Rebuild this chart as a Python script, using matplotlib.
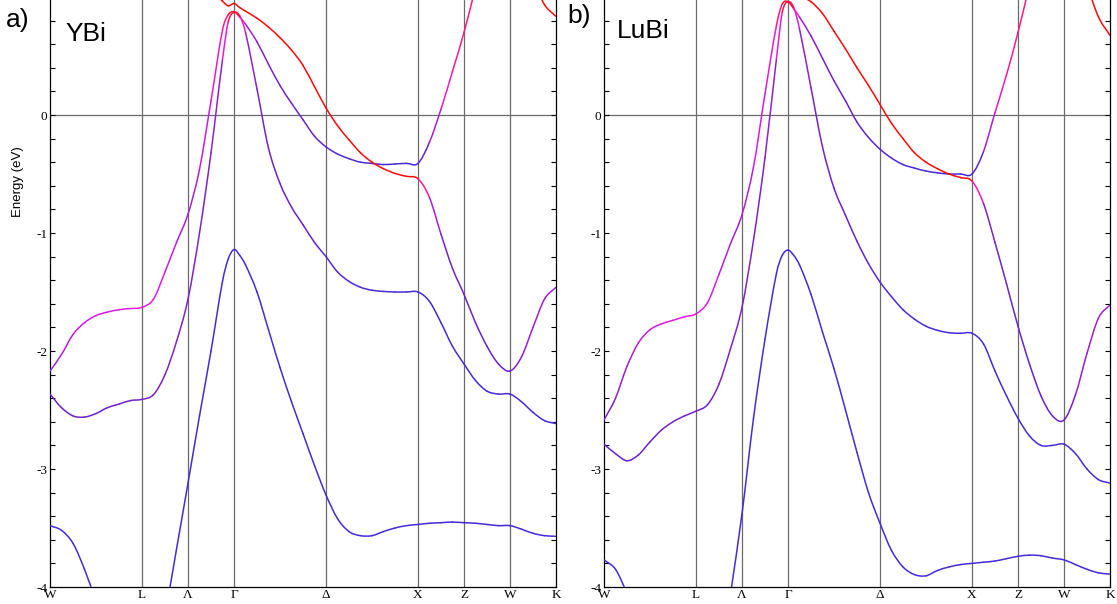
import numpy as np
import matplotlib.pyplot as plt
from matplotlib.collections import PatchCollection
from matplotlib.colors import LinearSegmentedColormap
from matplotlib.patches import PathPatch
from matplotlib.path import Path

plt.rcParams['axes.unicode_minus'] = False

nan = np.nan

# k path W-L-Λ-Γ-Δ-X-Z-W-K (in units of the shortest segment)
k = np.array([0, 0.25, 0.5, 0.75, 1, 1.25, 1.5, 1.75, 2, 2.25, 2.5, 2.75,
              3, 3.25, 3.5, 3.75, 3.875, 4, 4.125, 4.25, 4.5, 4.75, 5, 5.25,
              5.5, 5.75, 6, 6.25, 6.5, 6.75, 7, 7.25, 7.5, 7.75, 8, 8.25,
              8.5, 8.75, 9, 9.25, 9.5, 9.75, 10, 10.25, 10.5, 10.75, 11])
kpoints = [0, 2, 3, 4, 6, 8, 9, 10, 11]
klabels = ['W', 'L', 'Λ', 'Γ', 'Δ', 'X', 'Z', 'W', 'K']
gridlines = [2, 3, 4, 6, 8, 9, 10]

# ---- YBi bands (eV) and orbital character (0 = blue ... 1 = red)
ybi_a = [-3.48, -3.52, -3.63, -3.85, -4.12, nan, nan, nan, nan, nan,
         -4.25, -3.68, -3.12, -2.55, -2.0, -1.41, -1.22, -1.14, -1.19, -1.27,
         -1.50, -1.82, -2.14, -2.43, -2.70, -2.97, -3.22, -3.42, -3.53, -3.565,
         -3.565, -3.53, -3.50, -3.48, -3.47, -3.46, -3.455, -3.45, -3.455, -3.46,
         -3.47, -3.48, -3.48, -3.51, -3.545, -3.565, -3.57]
ybi_b = [-2.365, -2.48, -2.55, -2.56, -2.53, -2.48, -2.45, -2.42, -2.41, -2.37,
         -2.20, -1.92, -1.56, -1.0, -0.32, 0.47, 0.79, 0.87, 0.84, 0.70,
         0.22, -0.28, -0.58, -0.78, -0.93, -1.08, -1.20, -1.33, -1.41, -1.46,
         -1.485, -1.495, -1.50, -1.50, -1.50, -1.58, -1.76, -1.96, -2.11, -2.25,
         -2.34, -2.365, -2.365, -2.43, -2.52, -2.59, -2.615]
ybi_c = [-2.17, -2.03, -1.86, -1.76, -1.70, -1.67, -1.65, -1.64, -1.63, -1.56,
         -1.33, -1.08, -0.84, -0.46, 0.12, 0.72, 0.85, 0.875, 0.83, 0.77,
         0.62, 0.43, 0.25, 0.10, -0.04, -0.18, -0.27, -0.33, -0.37, -0.40,
         -0.41, -0.42, -0.415, -0.41, -0.41, -0.23, 0.05, 0.37, 0.70, 1.08,
         nan, nan, nan, nan, nan, nan, nan]
ybi_d = [nan, nan, nan, nan, nan, nan, nan, nan, nan, nan,
         nan, nan, nan, nan, 1.06, 0.965, 0.925, 0.945, 0.91, 0.88,
         0.82, 0.745, 0.655, 0.55, 0.42, 0.24, 0.06, -0.09, -0.21, -0.32,
         -0.40, -0.455, -0.495, -0.52, -0.54, -0.70, -1.01, -1.30, -1.52, -1.76,
         -1.96, -2.11, -2.17, -2.05, -1.80, -1.56, -1.46]
ybi_e = [nan] * 44 + [1.15, 0.935, 0.835]

ybi_a_w = [0.08] * 47
ybi_b_w = [0.28, 0.3, 0.32, 0.33, 0.34, 0.35, 0.35, 0.35, 0.36, 0.37,
           0.38, 0.38, 0.38, 0.38, 0.38, 0.45, 0.8, 1.0, 0.8, 0.45,
           0.38, 0.35, 0.33, 0.3, 0.27, 0.24, 0.2, 0.17, 0.14, 0.12,
           0.1, 0.08, 0.08, 0.08, 0.08, 0.08, 0.1, 0.1, 0.1, 0.1,
           0.1, 0.1, 0.12, 0.1, 0.1, 0.1, 0.1]
ybi_c_w = [0.45, 0.5, 0.52, 0.55, 0.56, 0.57, 0.58, 0.6, 0.62, 0.62,
           0.58, 0.5, 0.45, 0.5, 0.6, 0.7, 0.9, 1.0, 0.85, 0.5,
           0.4, 0.37, 0.35, 0.32, 0.3, 0.25, 0.2, 0.15, 0.12, 0.1,
           0.08, 0.08, 0.08, 0.08, 0.08, 0.35, 0.6, 0.78, 0.82, 0.82,
           0, 0, 0, 0, 0, 0, 0]
ybi_d_w = [1.0] * 35 + [0.55, 0.38, 0.34, 0.32, 0.3, 0.3, 0.32, 0.35,
                        0.42, 0.45, 0.45, 0.45]
ybi_e_w = [1.0] * 47

# ---- LuBi bands (eV) and orbital character
lubi_a = [-3.77, -3.85, -4.05, nan, nan, nan, nan, nan, nan, nan,
          nan, -4.06, -3.38, -2.57, -1.90, -1.34, -1.19, -1.145, -1.19, -1.27,
          -1.52, -1.84, -2.15, -2.50, -2.86, -3.20, -3.46, -3.69, -3.83, -3.895,
          -3.905, -3.86, -3.83, -3.81, -3.80, -3.79, -3.78, -3.76, -3.74, -3.73,
          -3.735, -3.755, -3.77, -3.81, -3.85, -3.88, -3.89]
lubi_b = [-2.79, -2.87, -2.93, -2.88, -2.77, -2.67, -2.60, -2.55, -2.51, -2.455,
          -2.28, -1.98, -1.63, -1.06, -0.36, 0.48, 0.87, 0.96, 0.91, 0.73,
          0.23, -0.27, -0.62, -0.85, -1.07, -1.26, -1.415, -1.54, -1.65, -1.73,
          -1.79, -1.825, -1.845, -1.85, -1.85, -1.94, -2.17, -2.38, -2.57, -2.72,
          -2.80, -2.80, -2.79, -2.87, -3.00, -3.09, -3.12]
lubi_c = [-2.585, -2.40, -2.13, -1.93, -1.82, -1.77, -1.74, -1.71, -1.685, -1.59,
          -1.35, -1.09, -0.845, -0.44, 0.18, 0.76, 0.94, 0.96, 0.90, 0.83,
          0.67, 0.48, 0.29, 0.12, -0.06, -0.19, -0.29, -0.365, -0.42, -0.45,
          -0.475, -0.49, -0.50, -0.50, -0.50, -0.31, 0.02, 0.34, 0.70, 1.10,
          nan, nan, nan, nan, nan, nan, nan]
lubi_d = [nan, nan, nan, nan, nan, nan, nan, nan, nan, nan,
          nan, nan, nan, nan, nan, nan, nan, nan, nan, 1.01,
          0.96, 0.86, 0.71, 0.56, 0.40, 0.25, 0.09, -0.07, -0.20, -0.32,
          -0.40, -0.455, -0.50, -0.53, -0.56, -0.75, -1.08, -1.43, -1.79, -2.11,
          -2.38, -2.55, -2.585, -2.37, -2.02, -1.72, -1.61]
lubi_e = [nan] * 44 + [1.10, 0.83, 0.675]

lubi_a_w = [0.08] * 47
lubi_b_w = [0.25, 0.27, 0.3, 0.32, 0.33, 0.34, 0.35, 0.35, 0.36, 0.36,
            0.37, 0.38, 0.38, 0.38, 0.38, 0.45, 0.8, 1.0, 0.8, 0.45,
            0.38, 0.35, 0.33, 0.3, 0.26, 0.22, 0.18, 0.14, 0.12, 0.1,
            0.08, 0.08, 0.08, 0.08, 0.08, 0.08, 0.08, 0.08, 0.08, 0.08,
            0.08, 0.08, 0.1, 0.08, 0.08, 0.08, 0.08]
lubi_c_w = [0.35, 0.4, 0.45, 0.5, 0.55, 0.58, 0.6, 0.62, 0.62, 0.6,
            0.55, 0.48, 0.45, 0.55, 0.62, 0.72, 0.9, 1.0, 0.85, 0.5,
            0.4, 0.37, 0.34, 0.3, 0.26, 0.2, 0.15, 0.12, 0.1, 0.06,
            0.06, 0.06, 0.06, 0.06, 0.06, 0.35, 0.6, 0.78, 0.82, 0.82,
            0, 0, 0, 0, 0, 0, 0]
lubi_d_w = [1.0] * 35 + [0.42, 0.33, 0.3, 0.28, 0.25, 0.25, 0.27, 0.3,
                         0.4, 0.45, 0.45, 0.45]
lubi_e_w = [1.0] * 47

character = LinearSegmentedColormap.from_list(
    'character',
    [(0.0, '#3a2ddc'), (0.35, '#7322c8'), (0.6, '#e01ce6'),
     (0.8, '#ff1a8c'), (1.0, '#ff0a0a')])


def slopes(x, y):
    # finite-difference tangents for a cubic Hermite curve through the points
    m = np.full(len(y), nan)
    for i in range(len(y)):
        if np.isnan(y[i]):
            continue
        lo = i - 1 if i > 0 and not np.isnan(y[i - 1]) else i
        hi = i + 1 if i < len(y) - 1 and not np.isnan(y[i + 1]) else i
        if hi > lo:
            m[i] = (y[hi] - y[lo]) / (x[hi] - x[lo])
    return m


def draw_bands(ax, bands, weights):
    for e, w in zip(bands, weights):
        y = np.asarray(e, float)
        w = np.asarray(w, float)
        m = slopes(k, y)
        patches, cols = [], []
        for i in range(len(k) - 1):
            if np.isnan(y[i]) or np.isnan(y[i + 1]):
                continue
            h = k[i + 1] - k[i]
            verts = [(k[i], y[i]),
                     (k[i] + h / 3, y[i] + m[i] * h / 3),
                     (k[i + 1] - h / 3, y[i + 1] - m[i + 1] * h / 3),
                     (k[i + 1], y[i + 1])]
            codes = [Path.MOVETO, Path.CURVE4, Path.CURVE4, Path.CURVE4]
            patches.append(PathPatch(Path(verts, codes)))
            cols.append(character(0.5 * (w[i] + w[i + 1])))
        pc = PatchCollection(patches, facecolors='none', edgecolors=cols,
                             linewidths=1.1, capstyle='round', zorder=3)
        ax.add_collection(pc)


def style_panel(ax):
    for x in gridlines:
        ax.axvline(x, color='#6a6a6a', lw=0.9, zorder=1)
    ax.axhline(0, color='#6a6a6a', lw=0.9, zorder=1)
    ax.set_xlim(0, 11)
    ax.set_ylim(-4, 1)
    ax.set_xticks(kpoints)
    ax.set_xticklabels(klabels, family='Liberation Serif', fontsize=9.5)
    ax.set_yticks([-4, -3, -2, -1, 0])
    ax.set_yticks(np.arange(-4, 1.01, 0.2), minor=True)
    ax.set_yticklabels(['-4', '-3', '-2', '-1', '0'],
                       family='Liberation Serif', fontsize=9.5)
    ax.tick_params(axis='x', length=0, pad=1.5)
    ax.tick_params(axis='y', which='both', direction='in', left=True,
                   right=True, length=3.5, width=0.8, pad=2)
    for s in ax.spines.values():
        s.set_linewidth(0.9)


W, H = 1117, 604
fig = plt.figure(figsize=(W / 100, H / 100), dpi=100)
ax1 = fig.add_axes([50 / W, 17 / H, 506 / W, 590 / H])
ax2 = fig.add_axes([604 / W, 17 / H, 506 / W, 590 / H])

draw_bands(ax1, [ybi_a, ybi_b, ybi_c, ybi_d, ybi_e],
           [ybi_a_w, ybi_b_w, ybi_c_w, ybi_d_w, ybi_e_w])
draw_bands(ax2, [lubi_a, lubi_b, lubi_c, lubi_d, lubi_e],
           [lubi_a_w, lubi_b_w, lubi_c_w, lubi_d_w, lubi_e_w])
style_panel(ax1)
style_panel(ax2)

sans = 'Liberation Sans'
fig.text(6 / W, 1 - 27 / H, 'a)', family=sans, fontsize=19, va='baseline')
fig.text(65 / W, 1 - 41 / H, 'YBi', family=sans, fontsize=19, va='baseline')
fig.text(567 / W, 1 - 23 / H, 'b)', family=sans, fontsize=19, va='baseline')
fig.text(617 / W, 1 - 38 / H, 'LuBi', family=sans, fontsize=19, va='baseline')
fig.text(18 / W, 1 - 182 / H, 'Energy (eV)', family=sans, fontsize=9.5,
         rotation=90, ha='center', va='center')

fig.savefig('out.png', dpi=100)
